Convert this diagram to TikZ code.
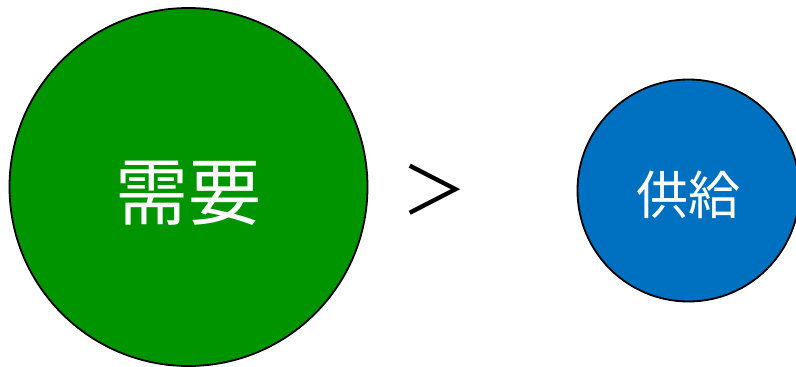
\documentclass[tikz,border=0pt]{standalone}
\usepackage{fontspec}
\newfontfamily\cjk{Noto Sans CJK JP}
\definecolor{dgreen}{RGB}{0,148,0}
\definecolor{dblue}{RGB}{0,112,192}
\begin{document}
\begin{tikzpicture}[x=1pt,y=-1pt,
  bubble/.style={circle,draw=black,line width=1.8pt,inner sep=0pt,text=white,font=\cjk}]
\useasboundingbox (0,0) rectangle (796,367);
\node[bubble,fill=dgreen,minimum size=358pt] (demand) at (188.5,187) {};
\node[text=white,font=\cjk\fontsize{73}{80}\selectfont] (demandt) at (188.5,193) {需要};
\node[bubble,fill=dblue,minimum size=222pt] (supply) at (688.5,190.5) {};
\node[text=white,font=\cjk\fontsize{52}{60}\selectfont] (supplyt) at (688.5,195) {供給};
\node[font=\cjk\fontsize{66}{72}\selectfont] (gt) at (434,190) {＞};
\end{tikzpicture}
\end{document}
